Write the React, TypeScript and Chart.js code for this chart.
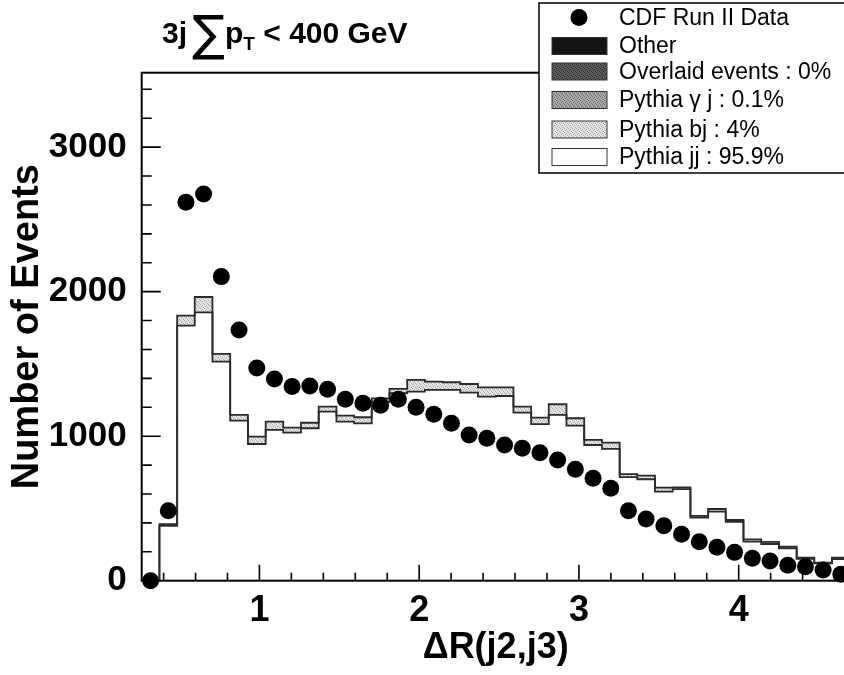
import React, { useEffect, useRef } from 'react';
import { Chart, registerables } from 'chart.js';
Chart.register(...registerables);

// Bin edges of the ΔR(j2,j3) histogram (40 bins)
const binEdges = [
  0.263, 0.374, 0.485, 0.595, 0.706, 0.817, 0.928, 1.039, 1.149, 1.26,
  1.371, 1.482, 1.593, 1.703, 1.814, 1.925, 2.036, 2.147, 2.257, 2.368,
  2.479, 2.59, 2.701, 2.811, 2.922, 3.033, 3.144, 3.255, 3.365, 3.476,
  3.587, 3.698, 3.809, 3.919, 4.03, 4.141, 4.252, 4.363, 4.473, 4.584, 4.695,
];

// CDF Run II data (events per bin)
const cdfData = [
  0, 484, 2619, 2676, 2104, 1735, 1472, 1396, 1343, 1347,
  1324, 1255, 1228, 1214, 1255, 1200, 1151, 1089, 1008, 985,
  939, 916, 886, 835, 771, 709, 639, 484, 427, 381,
  321, 270, 231, 196, 155, 136, 107, 97, 74, 44,
];

// Pythia jj (bottom of the stack)
const pythiaJJ = [
  0, 380, 1765, 1857, 1516, 1107, 946, 1043, 1024, 1055,
  1170, 1100, 1089, 1235, 1297, 1308, 1320, 1320, 1301, 1273,
  1278, 1163, 1084, 1147, 1073, 939, 912, 716, 702, 616,
  633, 436, 478, 408, 270, 254, 224, 152, 120, 150,
];

// Pythia bj (stacked on top of jj)
const pythiaBJ = [
  0, 12, 69, 106, 53, 40, 51, 57, 35, 38,
  34, 42, 42, 27, 30, 81, 57, 53, 60, 65,
  60, 41, 44, 74, 51, 35, 43, 22, 25, 28,
  13, 12, 18, 12, 16, 14, 11, 7, 5, 9,
];

const legendLabels = [
  'CDF Run II Data',
  'Other',
  'Overlaid events : 0%',
  'Pythia \u03B3 j : 0.1%',
  'Pythia bj : 4%',
  'Pythia jj : 95.9%',
];

const xTitle = '\u0394R(j2,j3)';
const yTitle = 'Number of Events';
const yMax = 3515;

const FONT = "'Liberation Sans', Arial, Helvetica, sans-serif";

function makePattern(ctx: CanvasRenderingContext2D, base: string, dot: string) {
  const c = document.createElement('canvas');
  c.width = 4;
  c.height = 4;
  const g = c.getContext('2d')!;
  g.fillStyle = base;
  g.fillRect(0, 0, 4, 4);
  g.fillStyle = dot;
  g.fillRect(0, 0, 1, 1);
  g.fillRect(2, 1, 1, 1);
  g.fillRect(1, 2, 1, 1);
  g.fillRect(3, 3, 1, 1);
  return ctx.createPattern(c, 'repeat') as CanvasPattern;
}

export default function App() {
  const canvasRef = useRef<HTMLCanvasElement | null>(null);

  useEffect(() => {
    const canvas = canvasRef.current!;
    const ctx0 = canvas.getContext('2d')!;
    const patOther = '#141414';
    const patOverlaid = makePattern(ctx0, '#5c5c5c', '#2e2e2e');
    const patGamma = makePattern(ctx0, '#a8a8a8', '#707070');
    const patBJ = makePattern(ctx0, '#e4e4e4', '#a8a8a8');

    const centers = cdfData.map((_, i) => (binEdges[i] + binEdges[i + 1]) / 2);
    const mcTotal = pythiaJJ.map((v, i) => v + pythiaBJ[i]);
    const stepPoints = (vals: number[]) =>
      binEdges.map((e, i) => ({ x: e, y: vals[Math.min(i, vals.length - 1)] }));

    const decor = {
      id: 'rootDecor',
      afterDraw(chart: any) {
        const ctx: CanvasRenderingContext2D = chart.ctx;
        const { left, top, right, bottom } = chart.chartArea;
        const xs = chart.scales.x;
        const ys = chart.scales.y;
        ctx.save();
        // frame
        ctx.strokeStyle = '#000';
        ctx.lineWidth = 2;
        ctx.strokeRect(left, top, right - left, bottom - top);
        // ticks
        ctx.lineWidth = 1.6;
        ctx.beginPath();
        for (const t of xs.ticks) {
          const px = xs.getPixelForValue(t.value);
          const major = Math.abs(t.value - Math.round(t.value)) < 1e-6;
          const len = major ? 16 : 8;
          ctx.moveTo(px, bottom);
          ctx.lineTo(px, bottom - len);
        }
        for (const t of ys.ticks) {
          const py = ys.getPixelForValue(t.value);
          const major = t.value % 1000 === 0;
          const len = major ? 19 : 10;
          ctx.moveTo(left, py);
          ctx.lineTo(left + len, py);
        }
        ctx.stroke();

        // title: 3j ∑ p_T < 400 GeV
        ctx.fillStyle = '#000';
        ctx.textBaseline = 'alphabetic';
        ctx.textAlign = 'left';
        let cx = 162;
        const base = 43;
        ctx.font = `bold 30px ${FONT}`;
        ctx.fillText('3j', cx, base);
        cx += ctx.measureText('3j').width + 5;
        ctx.font = `40px 'DejaVu Sans'`;
        let m = ctx.measureText('\u2211');
        const h0 = m.actualBoundingBoxAscent + m.actualBoundingBoxDescent;
        const sz = (40 * 45) / h0;
        ctx.font = `${sz}px 'DejaVu Sans'`;
        m = ctx.measureText('\u2211');
        const sy = 37.5 + (m.actualBoundingBoxAscent - m.actualBoundingBoxDescent) / 2;
        ctx.fillText('\u2211', cx - m.actualBoundingBoxLeft, sy);
        cx += m.actualBoundingBoxLeft + m.actualBoundingBoxRight + 1;
        ctx.font = `bold 30px ${FONT}`;
        ctx.fillText('p', cx, base);
        cx += ctx.measureText('p').width;
        ctx.font = `bold 19px ${FONT}`;
        ctx.fillText('T', cx, base + 7);
        cx += ctx.measureText('T').width;
        ctx.font = `bold 30px ${FONT}`;
        ctx.fillText(' < 400 GeV', cx, base);

        // legend box
        const lx = 539;
        const ly = 3;
        ctx.fillStyle = '#fff';
        ctx.fillRect(lx, ly, 360, 170);
        ctx.strokeStyle = '#000';
        ctx.lineWidth = 1.5;
        ctx.strokeRect(lx, ly, 360, 170);
        const rows = [17.5, 46, 71.5, 100, 129.5, 157];
        const fills: any[] = [null, patOther, patOverlaid, patGamma, patBJ, '#ffffff'];
        ctx.font = `23px ${FONT}`;
        ctx.textBaseline = 'middle';
        rows.forEach((ry, i) => {
          if (i === 0) {
            ctx.fillStyle = '#000';
            ctx.beginPath();
            ctx.arc(579, ry, 8.5, 0, Math.PI * 2);
            ctx.fill();
          } else {
            ctx.fillStyle = fills[i];
            ctx.fillRect(552, ry - 8.5, 55, 17);
            ctx.strokeStyle = '#333';
            ctx.lineWidth = 1;
            ctx.strokeRect(552, ry - 8.5, 55, 17);
          }
          ctx.fillStyle = '#000';
          ctx.fillText(legendLabels[i], 619, ry + 1);
        });
        ctx.restore();
      },
    };

    const chart = new Chart(canvas, {
      type: 'line',
      data: {
        datasets: [
          {
            type: 'scatter',
            label: legendLabels[0],
            data: centers.map((x, i) => ({ x, y: cdfData[i] })),
            backgroundColor: '#000',
            borderColor: '#000',
            pointRadius: 8.5,
            pointBorderWidth: 0,
            showLine: false,
            clip: false,
            order: 0,
          } as any,
          {
            type: 'line',
            label: legendLabels[4],
            data: stepPoints(mcTotal),
            stepped: 'before',
            borderColor: '#2a2a2a',
            borderWidth: 1.8,
            pointRadius: 0,
            fill: '+1',
            backgroundColor: patBJ,
            order: 2,
          } as any,
          {
            type: 'line',
            label: legendLabels[5],
            data: stepPoints(pythiaJJ),
            stepped: 'before',
            borderColor: '#2a2a2a',
            borderWidth: 1.8,
            pointRadius: 0,
            fill: false,
            order: 1,
          } as any,
        ],
      },
      options: {
        responsive: false,
        devicePixelRatio: 1,
        animation: false,
        events: [],
        layout: { padding: { top: 72.7, right: 30.3, left: 0, bottom: 0 } },
        plugins: { legend: { display: false }, tooltip: { enabled: false } },
        scales: {
          x: {
            type: 'linear',
            min: binEdges[0],
            max: binEdges[binEdges.length - 1],
            afterFit: (s: any) => {
              s.height = 94.3;
            },
            grid: { display: false },
            border: { display: false },
            ticks: {
              stepSize: 0.2,
              autoSkip: false,
              maxRotation: 0,
              minRotation: 0,
              includeBounds: false,
              padding: 1,
              color: '#000',
              font: { family: FONT, size: 36, weight: 'bold' },
              callback: (v: any) =>
                Math.abs(v - Math.round(v)) < 1e-6 ? String(Math.round(v)) : '',
            },
            title: {
              display: true,
              text: xTitle,
              color: '#000',
              font: { family: FONT, size: 36, weight: 'bold' },
              padding: { top: 0, bottom: 5 },
            },
          },
          y: {
            type: 'linear',
            min: 0,
            max: yMax,
            afterFit: (s: any) => {
              s.width = 141.7;
            },
            grid: { display: false },
            border: { display: false },
            ticks: {
              stepSize: 200,
              autoSkip: false,
              includeBounds: false,
              padding: 7,
              color: '#000',
              font: { family: FONT, size: 35, weight: 'bold' },
              callback: (v: any) => (v % 1000 === 0 ? String(v) : ''),
            },
            title: {
              display: true,
              text: yTitle,
              color: '#000',
              font: { family: FONT, size: 38, weight: 'bold' },
              padding: { top: 5, bottom: 0 },
            },
          },
        },
      } as any,
      plugins: [decor],
    });
    return () => chart.destroy();
  }, []);

  return (
    <div
      style={{
        position: 'fixed',
        left: 0,
        top: 0,
        width: 844,
        height: 675,
        overflow: 'hidden',
        background: '#fff',
      }}
    >
      <canvas
        ref={canvasRef}
        width={880}
        height={675}
        style={{ display: 'block', width: 880, height: 675 }}
      />
    </div>
  );
}
